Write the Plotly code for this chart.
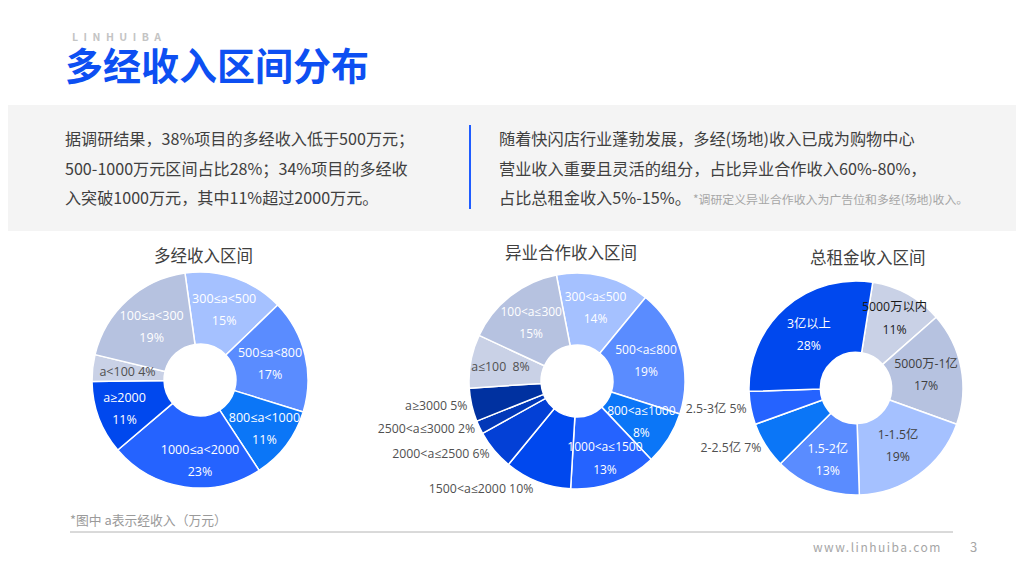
import plotly.graph_objects as go

W, H = 1024, 576

# ---------------- data ----------------
chart1_title = "多经收入区间"
chart1_labels = ["300≤a<500", "500≤a<800", "800≤a<1000", "1000≤a<2000", "a≥2000", "a<100", "100≤a<300"]
chart1_values = [15, 17, 11, 23, 11, 4, 19]

chart2_title = "异业合作收入区间"
chart2_labels = ["300<a≤500", "500<a≤800", "800<a≤1000", "1000<a≤1500", "1500<a≤2000",
                 "2000<a≤2500", "2500<a≤3000", "a≥3000", "a≤100", "100<a≤300"]
chart2_values = [14, 19, 8, 13, 10, 6, 2, 5, 8, 15]

chart3_title = "总租金收入区间"
chart3_labels = ["5000万以内", "5000万-1亿", "1-1.5亿", "1.5-2亿", "2-2.5亿", "2.5-3亿", "3亿以上"]
chart3_values = [11, 17, 19, 13, 7, 5, 28]

page_title = "多经收入区间分布"
brand = "LINHUIBA"
left_lines = ["据调研结果，38%项目的多经收入低于500万元；",
              "500-1000万元区间占比28%；34%项目的多经收",
              "入突破1000万元，其中11%超过2000万元。"]
right_lines = ["随着快闪店行业蓬勃发展，多经(场地)收入已成为购物中心",
               "营业收入重要且灵活的组分，占比异业合作收入60%-80%，",
               "占比总租金收入5%-15%。"]
right_note = "*调研定义异业合作收入为广告位和多经(场地)收入。"
footnote = "*图中 a表示经收入（万元）"
site = "www.linhuiba.com"
page_no = "3"

# ---------------- styles ----------------
FONT = "Noto Sans CJK SC, Noto Sans, sans-serif"
LFONT = "Open Sans, Liberation Sans, Noto Sans CJK SC, sans-serif"
OFF = 8  # page offset of the plot div inside the browser window
WHITE = "#ffffff"
GRAY = "#505050"
CLEAR = "rgba(0,0,0,0)"


def two(sz):
    return ("<span style='font-size:%spx'>%%{label}</span><br>"
            "<span style='font-size:%spx'>%%{percent:.0%%}</span>") % (sz, sz)


def one(sz, sep=" "):
    return "<span style='font-size:%spx'>%%{label}%s%%{percent:.0%%}</span>" % (sz, sep)


def px(x):
    return (x - OFF) / W


def py(y):
    return 1 - (y - OFF) / H


def dom(cx, cy, r):
    return dict(x=[px(cx - r), px(cx + r)], y=[py(cy + r), py(cy - r)])


fig = go.Figure()


def donut(labels, values, rotation, center, r, colors, templates, positions, tcolors):
    """positions: 'inside' / 'outside', or a number = label ring scale for crowded slices."""
    cx, cy = center
    # slices
    fig.add_trace(go.Pie(
        labels=labels, values=values, sort=False, direction="clockwise",
        rotation=rotation, hole=0.333, domain=dom(cx, cy, r),
        marker=dict(colors=colors, line=dict(color="#ffffff", width=1.5)),
        textinfo="none", hoverinfo="label+percent", showlegend=False,
    ))
    # labels, drawn above all slices
    groups = [(1.0, [p if p in ("inside", "outside") else "none" for p in positions])]
    for f in sorted({p for p in positions if not isinstance(p, str)}):
        groups.append((f, ["inside" if p == f else "none" for p in positions]))
    for f, pos in groups:
        rr = r * f
        fig.add_trace(go.Pie(
            labels=labels, values=values, sort=False, direction="clockwise",
            rotation=rotation, hole=min(0.333 / f, 0.9), domain=dom(cx, cy, rr),
            marker=dict(colors=[CLEAR] * len(values), line=dict(width=0)),
            texttemplate=templates, textposition=pos,
            insidetextorientation="horizontal",
            textfont=dict(family=LFONT, size=17, color=tcolors),
            hoverinfo="skip", showlegend=False,
        ))


T1, O1 = two(12.5), one(12.5)
donut(chart1_labels, chart1_values, -8, (200, 380), 108,
      ["#a5c1ff", "#5a8cff", "#0b76f7", "#2563ff", "#0048ee", "#c9d1e6", "#b6c2e0"],
      [T1, T1, T1, T1, T1, O1, T1],
      ["inside"] * 5 + [0.76, "inside"],
      [WHITE, WHITE, WHITE, WHITE, WHITE, GRAY, WHITE])

T2, O2 = two(12), one(12.3)
donut(chart2_labels, chart2_values, -11, (577, 381), 108,
      ["#a5c1ff", "#5a8cff", "#0b76f7", "#2563ff", "#0048ee",
       "#0340d6", "#0238b8", "#0031a0", "#c9d1e6", "#b6c2e0"],
      [T2, T2, T2, T2, O2, O2, O2, O2, one(12.3, "\u00a0\u00a0"), T2],
      ["inside", "inside", 0.88, 1.06] + ["outside"] * 4 + [0.9, "inside"],
      [WHITE, WHITE, WHITE, WHITE, GRAY, GRAY, GRAY, GRAY, GRAY, WHITE])

T3, O3 = two(12.3), one(12.3)
donut(chart3_labels, chart3_values, 9, (856, 388), 107,
      ["#c9d1e6", "#b6c2e0", "#a5c1ff", "#5a8cff", "#0b76f7", "#2563ff", "#0048ee"],
      [T3, T3, T3, T3, O3, O3, T3],
      ["inside"] * 4 + ["outside"] * 2 + ["inside"],
      ["#1a1a1a", "#404040", "#404040", WHITE, GRAY, GRAY, WHITE])

shapes = [
    dict(type="rect", xref="paper", yref="paper", x0=0, x1=1, y0=py(231), y1=py(105),
         fillcolor="#f4f4f4", line=dict(width=0), layer="below"),
    dict(type="line", xref="paper", yref="paper", x0=px(470), x1=px(470), y0=py(209), y1=py(125),
         line=dict(color="#1f5cff", width=2)),
    dict(type="line", xref="paper", yref="paper", x0=px(70), x1=px(953), y0=py(532), y1=py(532),
         line=dict(color="#b4b4b4", width=1)),
]

ann = []


def text(x, y, s, size, color, xanchor="left", bold=False, ls=None):
    if ls is not None:
        s = "<span style='letter-spacing:%spx'>%s</span>" % (ls, s)
    if bold:
        s = "<b>" + s + "</b>"
    ann.append(dict(x=px(x), y=py(y), xref="paper", yref="paper", text=s, showarrow=False,
                    xanchor=xanchor, yanchor="middle",
                    font=dict(family=FONT, size=size, color=color)))


text(70, 36, brand, 10.5, "#c4c4c4", bold=True, ls=5.5)
text(63, 63, page_title, 38, "#0d4ff2", bold=True)
for i, s in enumerate(left_lines):
    text(63, 138 + 29.5 * i, s, 16.1, "#404040")
for i, s in enumerate(right_lines):
    text(497, 138 + 29.5 * i, s, 16.2, "#404040")
text(691, 198, right_note, 11.9, "#a6a6a6")
text(203, 255, chart1_title, 16.5, "#404040", xanchor="center")
text(571, 252, chart2_title, 16.5, "#404040", xanchor="center")
text(868, 257, chart3_title, 16.5, "#404040", xanchor="center")
text(68, 519, footnote, 12.8, "#9a9a9a")
text(811, 546, site, 12, "#a6a6a6", ls=1.5)
text(968, 546, page_no, 13, "#a6a6a6")

fig.update_layout(
    width=W, height=H, margin=dict(l=0, r=0, t=0, b=0),
    paper_bgcolor="#ffffff", plot_bgcolor="#ffffff",
    shapes=shapes, annotations=ann,
    uniformtext=dict(mode="show", minsize=17),
    font=dict(family=FONT),
)

fig.write_html("out.html")
